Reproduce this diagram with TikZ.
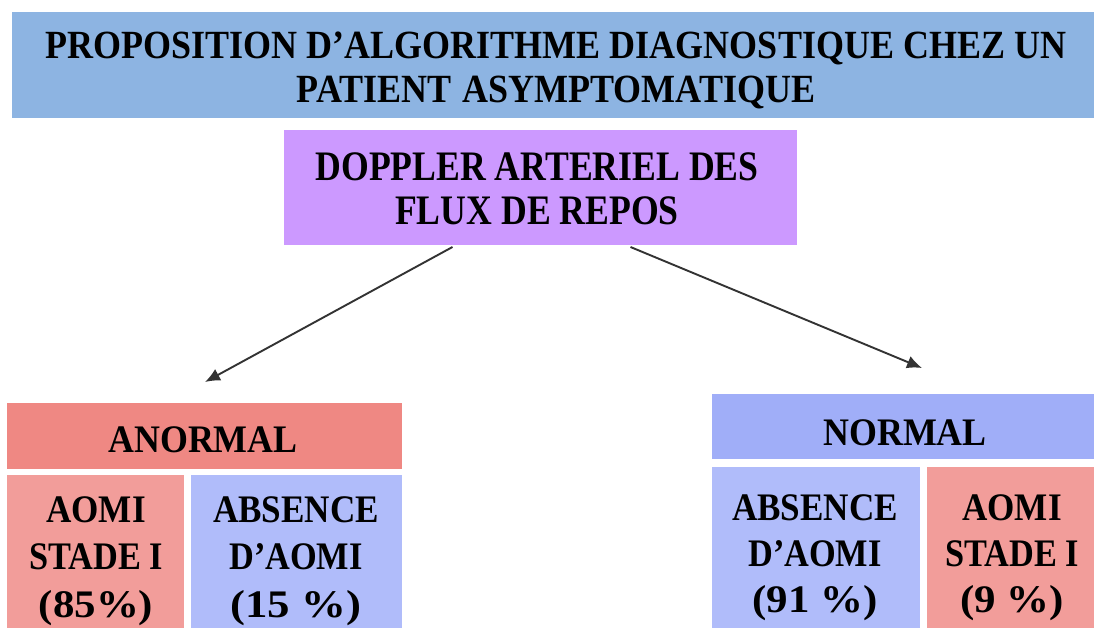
\documentclass[tikz,border=0pt]{standalone}
\usepackage{fontspec}
\setmainfont{Liberation Serif}
\usetikzlibrary{arrows.meta}
\definecolor{titleblue}{RGB}{141,180,226}
\definecolor{dopviolet}{RGB}{204,153,255}
\definecolor{anorred}{RGB}{239,136,131}
\definecolor{aomired}{RGB}{242,157,154}
\definecolor{absblue}{RGB}{176,188,250}
\definecolor{normblue}{RGB}{160,174,248}
\newcommand{\sx}[2]{\scalebox{#1}[1]{#2}}
\newcommand{\lines}[1]{\begin{tabular}[t]{@{}c@{}}#1\end{tabular}}
\tikzset{
  panel/.style={inner sep=0pt, outer sep=0pt, anchor=north west},
  lbl/.style={inner sep=0pt, outer sep=0pt, anchor=base, text=black, font=\bfseries},
  arr/.style={draw=black!80, line width=1.9pt, -{Latex[length=15pt,width=13pt]}}
}
\begin{document}
\begin{tikzpicture}[x=1pt,y=-1pt]
\clip (0,0) rectangle (1094,628);
\fill[white] (0,0) rectangle (1094,628);
% boxes
\node[panel, fill=titleblue, minimum width=1100pt, minimum height=106pt] (title) at (12,12) {};
\node[panel, fill=dopviolet, minimum width=513pt, minimum height=115pt] (dop) at (284,130) {};
\node[panel, fill=anorred, minimum width=395pt, minimum height=66pt] (anor) at (7,403) {};
\node[panel, fill=aomired, minimum width=177pt, minimum height=170pt] (aomil) at (7,475) {};
\node[panel, fill=absblue, minimum width=211pt, minimum height=170pt] (absl) at (191,475) {};
\node[panel, fill=normblue, minimum width=400pt, minimum height=65pt] (norm) at (712,394) {};
\node[panel, fill=absblue, minimum width=208pt, minimum height=170pt] (absr) at (712,467) {};
\node[panel, fill=aomired, minimum width=180pt, minimum height=170pt] (aomir) at (927,467) {};
% texts
\node[lbl] (titletxt) at (556,59) {\fontsize{40}{44}\selectfont\lines{\sx{0.9}{PROPOSITION D’ALGORITHME DIAGNOSTIQUE CHEZ UN}\\\sx{0.9}{PATIENT\hspace{12pt}ASYMPTOMATIQUE}}};
\node[lbl] (doptxt) at (537,181) {\fontsize{42}{43.5}\selectfont\lines{\sx{0.85}{DOPPLER ARTERIEL DES}\\\sx{0.85}{FLUX DE REPOS}}};
\node[lbl] (anortxt) at (203,452) {\fontsize{39}{44}\selectfont\sx{0.92}{ANORMAL}};
\node[lbl] (aomiltxt) at (96,522) {\fontsize{39}{47.5}\selectfont\lines{\sx{0.9}{AOMI}\\\sx{0.88}{STADE I}\\\sx{1.1}{(85\%)}}};
\node[lbl] (absltxt) at (296,522) {\fontsize{39}{47.5}\selectfont\lines{\sx{0.9}{ABSENCE}\\\sx{0.88}{D’AOMI}\\\sx{1.15}{(15 \%)}}};
\node[lbl] (normtxt) at (905,445) {\fontsize{39}{44}\selectfont\sx{0.92}{NORMAL}};
\node[lbl] (absrtxt) at (815,520) {\fontsize{39}{46}\selectfont\lines{\sx{0.9}{ABSENCE}\\\sx{0.88}{D’AOMI}\\\sx{1.1}{(91 \%)}}};
\node[lbl] (aomirtxt) at (1012,520) {\fontsize{39}{46}\selectfont\lines{\sx{0.9}{AOMI}\\\sx{0.88}{STADE I}\\\sx{1.1}{(9 \%)}}};
% connectors
\coordinate (endl) at (205,382);
\coordinate (endr) at (922,368);
\draw[arr] ([xshift=-88pt,yshift=-2pt]dop.south) -- (endl);
\draw[arr] ([xshift=90pt,yshift=-2pt]dop.south) -- (endr);
\end{tikzpicture}
\end{document}
